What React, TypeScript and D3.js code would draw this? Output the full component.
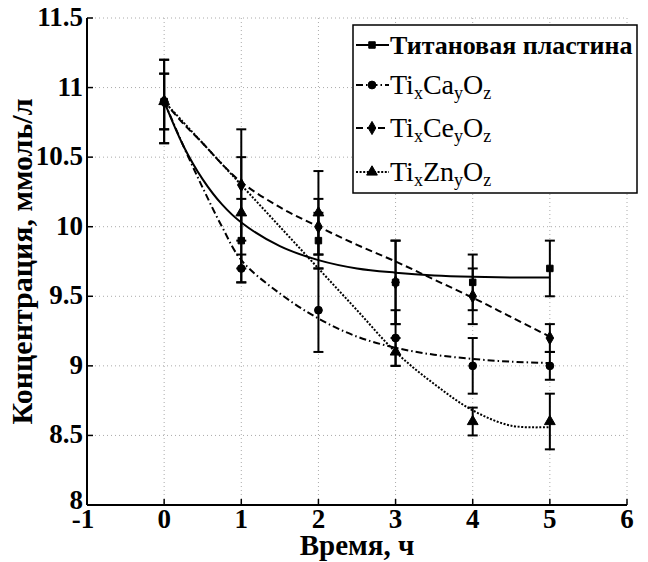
import React from "react";
import * as d3 from "d3";

const times = [0, 1, 2, 3, 4, 5];
const titanValues = [10.9, 9.9, 9.9, 9.6, 9.6, 9.7];
const titanErr = [0.3, 0.3, 0.2, 0.3, 0.2, 0.2];
const caValues = [10.9, 9.7, 9.4, 9.2, 9.0, 9.0];
const caErr = [0.2, 0.1, 0.3, 0.2, 0.2, 0.1];
const ceValues = [10.9, 10.3, 10.0, 9.6, 9.5, 9.2];
const ceErr = [0.2, 0.4, 0.2, 0.3, 0.2, 0.1];
const znValues = [10.9, 10.1, 10.1, 9.1, 8.6, 8.6];
const znErr = [0.3, 0.4, 0.3, 0.1, 0.1, 0.2];

const fitTimes = [0, 0.25, 0.5, 0.75, 1, 1.5, 2, 2.5, 3, 3.5, 4, 4.5, 5];
const titanFit = [10.9, 10.58, 10.34, 10.16, 10.03, 9.86, 9.76, 9.7, 9.67, 9.65, 9.64, 9.635, 9.635];
const caFit = [10.9, 10.58, 10.28, 10.0, 9.76, 9.52, 9.34, 9.21, 9.13, 9.08, 9.05, 9.03, 9.02];
const ceFit = [10.9, 10.74, 10.6, 10.45, 10.32, 10.14, 10.0, 9.87, 9.75, 9.62, 9.49, 9.35, 9.21];
const znFit = [10.9, 10.75, 10.6, 10.45, 10.3, 10.0, 9.7, 9.4, 9.1, 8.87, 8.68, 8.57, 8.56];

const xTicks = [-1, 0, 1, 2, 3, 4, 5, 6];
const yTicks = [8, 8.5, 9, 9.5, 10, 10.5, 11, 11.5];
const xLabel = "Время, ч";
const yLabel = "Концентрация, ммоль/л";

const FONT = "Liberation Serif";

type Series = {
  key: string;
  values: number[];
  err: number[];
  fit: number[];
  dash: string;
  marker: string;
  bold: boolean;
  label: React.ReactNode;
};

const sub = (s: string) => (
  <tspan fontSize="18" dy="5">
    {s}
  </tspan>
);

const formula = (el: string) => (
  <>
    <tspan>Ti</tspan>
    {sub("x")}
    <tspan dy="-5">{el}</tspan>
    {sub("y")}
    <tspan dy="-5">O</tspan>
    {sub("z")}
  </>
);

const series: Series[] = [
  {
    key: "ti",
    values: titanValues,
    err: titanErr,
    fit: titanFit,
    dash: "none",
    marker: "square",
    bold: true,
    label: "Титановая пластина",
  },
  { key: "ca", values: caValues, err: caErr, fit: caFit, dash: "7,3,1.5,3", marker: "circle", bold: false, label: formula("Ca") },
  { key: "ce", values: ceValues, err: ceErr, fit: ceFit, dash: "7,4", marker: "diamond", bold: false, label: formula("Ce") },
  { key: "zn", values: znValues, err: znErr, fit: znFit, dash: "2,1.6", marker: "triangle", bold: false, label: formula("Zn") },
];

const W = 648;
const H = 562;
const left = 87;
const right = 627;
const top = 18;
const bottom = 505;

const x = d3.scaleLinear().domain([-1, 6]).range([left, right]);
const y = d3.scaleLinear().domain([8, 11.5]).range([bottom, top]);

function Marker({ type, cx, cy }: { type: string; cx: number; cy: number }) {
  const symType =
    type === "square"
      ? d3.symbolSquare
      : type === "diamond"
      ? d3.symbolDiamond
      : type === "triangle"
      ? d3.symbolTriangle
      : d3.symbolCircle;
  const size = type === "square" ? 42 : type === "diamond" ? 50 : type === "triangle" ? 50 : 48;
  const path = d3.symbol().type(symType).size(size)() as string;
  return <path d={path} transform={`translate(${cx},${cy})`} fill="#000" stroke="#000" strokeWidth={1} />;
}

export default function App() {
  const line = d3
    .line<number>()
    .x((_, i) => x(fitTimes[i]))
    .y((d) => y(d))
    .curve(d3.curveCatmullRom.alpha(0.5));

  const legX = 353;
  const legY = 25;
  const legW = 284;
  const legH = 168;
  const rowY = [45, 85, 128, 172];

  return (
    <svg width={W} height={H} style={{ position: "absolute", left: 0, top: 0, background: "#fff" }}>
      <rect x={0} y={0} width={W} height={H} fill="#fff" />
      {xTicks.map((t) => (
        <line key={"gx" + t} x1={x(t)} x2={x(t)} y1={top} y2={bottom} stroke="#aaa" strokeDasharray="1,3" strokeWidth={1} />
      ))}
      {yTicks.map((t) => (
        <line key={"gy" + t} x1={left} x2={right} y1={y(t)} y2={y(t)} stroke="#aaa" strokeDasharray="1,3" strokeWidth={1} />
      ))}
      {series.map((s) => (
        <path
          key={"f" + s.key}
          d={line(s.fit) as string}
          fill="none"
          stroke="#000"
          strokeWidth={2}
          strokeDasharray={s.dash}
        />
      ))}
      {series.map((s) =>
        times.map((t, i) => {
          const cx = x(t);
          const y1 = y(s.values[i] + s.err[i]);
          const y2 = y(s.values[i] - s.err[i]);
          return (
            <g key={"e" + s.key + i} stroke="#000" strokeWidth={2}>
              <line x1={cx} x2={cx} y1={y1} y2={y2} />
              <line x1={cx - 5} x2={cx + 5} y1={y1} y2={y1} />
              <line x1={cx - 5} x2={cx + 5} y1={y2} y2={y2} />
            </g>
          );
        })
      )}
      {series.map((s) =>
        times.map((t, i) => <Marker key={"m" + s.key + i} type={s.marker} cx={x(t)} cy={y(s.values[i])} />)
      )}
      <line x1={left} x2={left} y1={top} y2={bottom} stroke="#000" strokeWidth={2} />
      <line x1={left} x2={right} y1={bottom} y2={bottom} stroke="#000" strokeWidth={2} />
      {yTicks.map((t) => (
        <line key={"ty" + t} x1={left} x2={left + 6} y1={y(t)} y2={y(t)} stroke="#000" strokeWidth={1.5} />
      ))}
      {xTicks.map((t) => (
        <line key={"tx" + t} x1={x(t)} x2={x(t)} y1={bottom} y2={bottom - 6} stroke="#000" strokeWidth={1.5} />
      ))}
      {yTicks.map((t) => (
        <text
          key={"ly" + t}
          x={left - 4}
          y={y(t) + (t === 8 ? 4 : 8)}
          textAnchor="end"
          fontSize={27}
          fontFamily={FONT}
          fontWeight="bold"
        >
          {t}
        </text>
      ))}
      {xTicks.map((t) => (
        <text
          key={"lx" + t}
          x={x(t) - (t < 0 ? 4 : 0)}
          y={bottom + 23}
          textAnchor="middle"
          fontSize={27}
          fontFamily={FONT}
          fontWeight="bold"
        >
          {t}
        </text>
      ))}
      <text x={357} y={555} textAnchor="middle" fontSize={29} fontFamily={FONT} fontWeight="bold">
        {xLabel}
      </text>
      <text
        transform={`translate(32,${(top + bottom) / 2}) rotate(-90)`}
        textAnchor="middle"
        fontSize={30}
        fontFamily={FONT}
        fontWeight="bold"
      >
        {yLabel}
      </text>
      <rect x={legX} y={legY} width={legW} height={legH} fill="#fff" stroke="#000" strokeWidth={1.5} />
      {series.map((s, i) => (
        <g key={"lg" + s.key}>
          <line x1={356} x2={389} y1={rowY[i]} y2={rowY[i]} stroke="#000" strokeWidth={2} strokeDasharray={s.dash} />
          <Marker type={s.marker} cx={372} cy={rowY[i]} />
          <text
            x={390}
            y={rowY[i] + 9}
            fontSize={s.bold ? 26 : 28}
            fontFamily={FONT}
            fontWeight={s.bold ? "bold" : "normal"}
          >
            {s.label}
          </text>
        </g>
      ))}
    </svg>
  );
}
